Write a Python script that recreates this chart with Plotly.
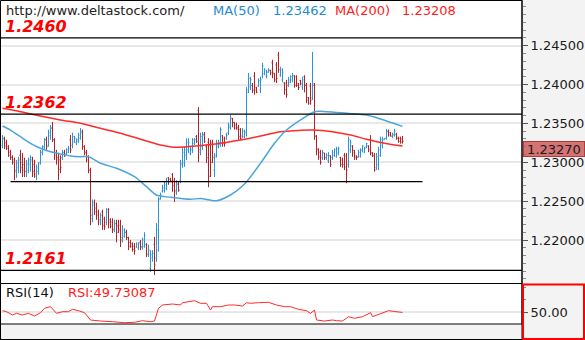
import plotly.graph_objects as go

# ---------------- data (prices in pips, 1 pip = 0.0001) ----------------
opens_pips = [
    12322,12330,12325,12320,12313,12307,12303,12288,12293,12309,12300,12297,12288,12290,12297,12303,12297,12282,12288,12300,
    12313,12320,12329,12322,12334,12344,12329,12313,12306,12303,12306,12313,12311,12313,12329,12322,12326,12325,12327,12331,
    12338,12320,12313,12307,12290,12228,12248,12241,
    12236,12223,12236,12227,12223,12239,12226,12223,12213,12221,12218,12219,12203,12205,12210,12203,12197,12195,12192,12191,
    12190,12197,12191,12192,12194,12181,12164,12177,12194,12177,12187,12253,12263,12264,12267,12280,12278,12284,12277,12262,
    12272,12277,12297,12299,12309,12316,12312,12316,12324,12333,
    12367,12313,12320,12336,12320,12326,12322,12325,12290,12309,12321,12323,12334,12330,12330,12338,12345,12356,12351,12348,
    12345,12342,12334,12333,12338,12393,12397,12399,12411,12396,12398,12393,12411,12414,12411,12416,12418,12428,12414,12425,
    12438,12412,12406,12402,12402,12399,12403,12406,12411,12410,12401,
    12405,12397,12410,12399,12383,12398,12383,12399,12334,12317,12313,12306,12312,12306,12302,12308,12306,12309,12308,12312,
    12306,12303,12309,12308,12297,12316,12321,12315,12308,12307,12308,12315,12313,12320,12321,12329,12312,12309,12293,12297,
    12309,12322,12329,12331,12340,12338,12333,12335,12336,12331,12331,12330,
]
highs_pips = [
    12335,12333,12329,12322,12316,12309,12306,12303,12307,12316,12312,12306,12303,12306,12309,12307,12303,12297,12300,12316,
    12322,12331,12333,12342,12348,12352,12331,12316,12312,12309,12316,12316,12318,12321,12335,12338,12334,12331,12338,12344,
    12342,12322,12316,12309,12293,12252,12252,12248,
    12239,12235,12239,12230,12241,12241,12228,12228,12226,12226,12226,12226,12219,12215,12213,12204,12200,12197,12196,12197,
    12197,12200,12203,12210,12196,12194,12187,12187,12204,12222,12255,12261,12271,12275,12280,12281,12280,12286,12280,12277,
    12275,12303,12320,12320,12331,12331,12320,12331,12331,12335,
    12371,12338,12339,12339,12322,12331,12329,12329,12312,12329,12329,12345,12335,12333,12338,12351,12361,12357,12352,12351,
    12348,12344,12344,12342,12397,12415,12410,12402,12416,12397,12408,12410,12428,12421,12419,12421,12419,12432,12415,12429,
    12442,12423,12421,12403,12406,12410,12412,12415,12412,12412,12402,
    12406,12410,12412,12402,12384,12402,12442,12402,12335,12318,12316,12316,12312,12312,12313,12309,12316,12318,12320,12320,
    12307,12306,12312,12312,12333,12329,12322,12316,12309,12316,12318,12322,12320,12325,12322,12335,12313,12312,12312,12320,
    12333,12333,12331,12343,12342,12339,12338,12343,12338,12333,12333,12334,
]
lows_pips = [
    12318,12317,12316,12307,12303,12297,12277,12280,12286,12286,12281,12281,12281,12286,12288,12281,12280,12277,12284,12297,
    12309,12316,12316,12320,12329,12326,12303,12297,12277,12286,12303,12307,12309,12312,12312,12318,12325,12322,12325,12329,
    12316,12309,12300,12286,12219,12223,12232,12226,
    12219,12219,12213,12213,12219,12215,12215,12209,12210,12197,12209,12191,12197,12203,12200,12187,12190,12185,12181,12190,
    12187,12187,12188,12190,12178,12178,12159,12172,12155,12172,12185,12252,12261,12261,12264,12271,12275,12262,12249,12258,
    12262,12273,12293,12294,12303,12312,12309,12312,12322,12325,
    12300,12309,12316,12325,12299,12268,12281,12299,12281,12306,12318,12320,12320,12320,12329,12335,12342,12345,12342,12342,
    12329,12329,12331,12331,12333,12389,12393,12389,12387,12389,12397,12389,12408,12412,12408,12415,12412,12408,12403,12402,
    12415,12410,12403,12387,12383,12397,12402,12403,12396,12397,12393,
    12399,12393,12390,12376,12374,12374,12380,12329,12309,12303,12297,12303,12303,12303,12299,12294,12303,12307,12306,12309,
    12294,12293,12290,12273,12293,12312,12307,12303,12303,12306,12306,12313,12312,12318,12313,12309,12307,12288,12290,12290,
    12307,12318,12329,12329,12333,12333,12331,12333,12329,12325,12324,12324,
]
closes_pips = [
    12331,12321,12318,12309,12306,12300,12290,12299,12303,12293,12290,12288,12298,12303,12306,12288,12285,12293,12298,12313,
    12320,12329,12320,12338,12344,12329,12309,12303,12291,12293,12312,12308,12316,12318,12316,12333,12331,12329,12335,12340,
    12320,12312,12303,12290,12232,12245,12236,12232,
    12226,12232,12219,12217,12236,12223,12218,12214,12221,12210,12213,12200,12213,12210,12203,12192,12192,12188,12186,12195,
    12196,12191,12200,12206,12182,12187,12181,12183,12168,12213,12252,12258,12267,12271,12276,12275,12276,12270,12264,12272,
    12264,12299,12313,12316,12326,12325,12317,12329,12329,12327,
    12316,12333,12335,12327,12306,12282,12300,12306,12307,12325,12326,12342,12325,12324,12335,12347,12357,12351,12344,12343,
    12333,12331,12340,12339,12390,12408,12406,12393,12393,12390,12405,12406,12424,12419,12416,12419,12415,12415,12406,12408,
    12419,12419,12416,12393,12387,12406,12410,12412,12399,12399,12396,
    12401,12406,12399,12380,12376,12380,12401,12333,12316,12307,12300,12312,12306,12309,12309,12297,12313,12316,12317,12318,
    12297,12297,12294,12290,12329,12325,12312,12306,12306,12313,12316,12321,12318,12324,12316,12312,12308,12290,12307,12316,
    12329,12330,12331,12339,12335,12334,12336,12340,12331,12327,12326,12327,
]

ma50_idx = [0, 4, 9, 14, 19, 24, 29, 34, 39, 43, 49, 57, 66, 72, 77, 84, 94, 99, 107, 114,
            121, 129, 136, 142, 151, 156, 162, 172, 182, 189, 200]
ma50 = [1.23467, 1.23415, 1.23329, 1.23244, 1.23180, 1.23136, 1.23107, 1.23081, 1.23072, 1.23072,
        1.22987, 1.22923, 1.22814, 1.22686, 1.22579, 1.22550, 1.22524, 1.22534, 1.22506, 1.22579,
        1.22720, 1.22987, 1.23244, 1.23415, 1.23579, 1.23651, 1.23651, 1.23630, 1.23608, 1.23557, 1.23462]

ma200_idx = [0, 9, 19, 29, 39, 49, 59, 69, 79, 86, 92, 99, 109, 119, 129, 139, 149, 155, 165, 174, 182, 191, 200]
ma200 = [1.23695, 1.23651, 1.23595, 1.23544, 1.23502, 1.23437, 1.23373, 1.23296, 1.23222, 1.23193,
         1.23200, 1.23216, 1.23244, 1.23287, 1.23338, 1.23393, 1.23411, 1.23415, 1.23393, 1.23351,
         1.23296, 1.23244, 1.23208]

rsi_idx = [0, 2, 5, 7, 10, 13, 16, 19, 21, 24, 27, 30, 33, 35, 38, 41, 44, 47, 49, 55, 61, 66, 70, 74, 76,
           78, 80, 85, 89, 90, 96, 99, 102, 104, 105, 109, 113, 116, 120, 122, 124, 128, 133, 137, 141,
           144, 148, 152, 154, 156, 157, 161, 165, 167, 170, 173, 176, 180, 184, 185, 189, 193, 197, 200]
rsi = [52.6, 51.0, 45.7, 48.4, 45.7, 48.4, 44.1, 49.4, 56.4, 59.0, 48.4, 51.0, 51.0, 54.8, 52.6, 49.4,
       37.7, 36.1, 36.1, 35.0, 33.4, 34.0, 36.6, 35.0, 36.1, 56.4, 61.7, 63.3, 61.7, 65.4, 68.6, 64.4,
       64.4, 53.7, 59.0, 59.0, 61.7, 61.7, 60.1, 65.4, 64.4, 65.4, 66.0, 61.7, 59.0, 59.0, 54.8, 52.6,
       48.4, 53.7, 37.7, 36.1, 37.7, 36.6, 36.1, 43.0, 40.4, 43.0, 49.4, 43.0, 48.4, 52.6, 51.0, 49.73087]

fib_levels = [1.2460, 1.2362, 1.2161]
mid_level = 1.2275
mid_level_span = [4, 210]          # bar indices covered by the 1.2275 line
price_ticks = [1.220, 1.225, 1.230, 1.235, 1.240, 1.245]
site_text = "http://www.deltastock.com/"

PIP = 1e-4
opens = [v * PIP for v in opens_pips]
highs = [v * PIP for v in highs_pips]
lows = [v * PIP for v in lows_pips]
closes = [v * PIP for v in closes_pips]
bar_idx = list(range(len(closes)))

# ---------------- styling ----------------
W, H = 585, 340
PLOT_R = 522.0
PRICE_BOT = 283.5
RSI_BOT = 324.0
def fx(px): return px / W
def fy(py): return 1 - py / H

BLUE_BAR = "#2f93d1"
RED_BAR = "#ad2428"
BLUE_LINE = "#4aa5dc"
RED_LINE = "#ff2a2a"
BLUE_TXT = "#1f8ad2"
RED_TXT = "#ff1c1c"
FONT = "DejaVu Sans"
X_RANGE = [-1.25, 259.75]   # puts each bar on a pixel centre

fig = go.Figure()
fig.add_trace(go.Ohlc(
    x=bar_idx, open=opens, high=highs, low=lows, close=closes,
    increasing=dict(line=dict(color=BLUE_BAR, width=1)),
    decreasing=dict(line=dict(color=RED_BAR, width=1)),
    tickwidth=0.5, hoverinfo="skip", showlegend=False, xaxis="x", yaxis="y"))
fig.add_trace(go.Scatter(x=ma200_idx, y=ma200, mode="lines",
                         line=dict(color=RED_LINE, width=1.5, shape="spline", smoothing=0.8),
                         hoverinfo="skip", showlegend=False, xaxis="x", yaxis="y"))
fig.add_trace(go.Scatter(x=ma50_idx, y=ma50, mode="lines",
                         line=dict(color=BLUE_LINE, width=1.5, shape="spline", smoothing=0.8),
                         hoverinfo="skip", showlegend=False, xaxis="x", yaxis="y"))
fig.add_trace(go.Scatter(x=rsi_idx, y=rsi, mode="lines",
                         line=dict(color="#ff2a2a", width=1),
                         hoverinfo="skip", showlegend=False, xaxis="x2", yaxis="y2"))

# price scale: 1.245 at y=45.7px, 7.772 px per 0.001
px_per_unit = 7772.0
p_top = 1.245 + 45.7 / px_per_unit
p_bot = 1.245 - (PRICE_BOT - 45.7) / px_per_unit

shapes = []
for v in fib_levels:
    shapes.append(dict(type="line", xref="x domain", yref="y", x0=0, x1=1, y0=v, y1=v,
                       line=dict(color="#000000", width=1.3), layer="above"))
shapes.append(dict(type="line", xref="x", yref="y", x0=mid_level_span[0], x1=mid_level_span[1],
                   y0=mid_level, y1=mid_level, line=dict(color="#000000", width=1.3), layer="above"))
# panel borders
border = dict(color="#000000", width=1)
shapes += [
    dict(type="rect", xref="paper", yref="paper", x0=fx(0.5), x1=fx(PLOT_R), y0=fy(PRICE_BOT), y1=fy(0.5),
         line=border, layer="above"),
    dict(type="rect", xref="paper", yref="paper", x0=fx(0.5), x1=fx(PLOT_R), y0=fy(RSI_BOT), y1=fy(PRICE_BOT),
         line=border, layer="above"),
    dict(type="line", xref="paper", yref="paper", x0=fx(0.5), x1=fx(0.5), y0=fy(339.5), y1=fy(RSI_BOT),
         line=border),
    dict(type="line", xref="paper", yref="paper", x0=fx(0), x1=fx(PLOT_R), y0=fy(339.5), y1=fy(339.5),
         line=border),
    dict(type="line", xref="paper", yref="paper", x0=fx(PLOT_R), x1=fx(PLOT_R), y0=0, y1=1,
         line=border, layer="above"),
    dict(type="rect", xref="paper", yref="paper", x0=fx(523), x1=fx(584), y0=fy(339), y1=fy(284.5),
         line=dict(color="#ff0000", width=2), layer="above"),
]

ann = []
def txt(x, y, s, color, size=13, bold=False, italic=False, xanchor="left"):
    t = f"<b>{s}</b>" if bold else s
    t = f"<i>{t}</i>" if italic else t
    ann.append(dict(xref="paper", yref="paper", x=fx(x), y=fy(y), text=t, showarrow=False,
                    xanchor=xanchor, yanchor="middle",
                    font=dict(family=FONT, size=size, color=color)))

txt(4, 11, site_text, "#222222")
txt(211, 11, "MA(50)", BLUE_TXT)
txt(271, 11, f"{ma50[-1]:.5f}", BLUE_TXT)
txt(333, 11, "MA(200)", RED_TXT)
txt(400, 11, f"{ma200[-1]:.5f}", RED_TXT)
txt(4, 292.5, "RSI(14)", "#111111")
txt(66, 292.5, f"RSI:{rsi[-1]:.5f}", RED_TXT)

for v in fib_levels:
    ann.append(dict(xref="paper", yref="y", x=fx(3), y=v, yshift=11.5, text=f"<b><i>{v:.4f}</i></b>",
                    showarrow=False, xanchor="left", yanchor="middle",
                    font=dict(family=FONT, size=16, color="#ff0000")))

ann.append(dict(xref="paper", yref="y", x=fx(522.5), y=closes[-1], text=f"{closes[-1]:.5f}",
                showarrow=False, xanchor="left", yanchor="top", align="center",
                bgcolor="rgba(204,82,82,0.8)", bordercolor="#b23a3a", borderwidth=1, borderpad=1,
                width=58, height=12, font=dict(family=FONT, size=13, color="#1a1a1a")))

fig.update_layout(
    width=W, height=H, margin=dict(l=0, r=0, t=0, b=0),
    paper_bgcolor="#f3f3f3", plot_bgcolor="#ffffff",
    showlegend=False, shapes=shapes, annotations=ann,
    font=dict(family=FONT, size=13, color="#1a1a1a"),
    xaxis=dict(domain=[0, fx(PLOT_R)], range=X_RANGE, showticklabels=False, showgrid=False,
               zeroline=False, ticks="", rangeslider=dict(visible=False), fixedrange=True),
    xaxis2=dict(domain=[0, fx(PLOT_R)], range=X_RANGE, anchor="y2", showticklabels=False,
                showgrid=False, zeroline=False, ticks="", matches="x"),
    yaxis=dict(domain=[fy(PRICE_BOT), 1], range=[p_bot, p_top], side="right", anchor="x",
               tickvals=price_ticks, ticktext=[f"{v:.5f}" for v in price_ticks],
               ticks="outside", ticklen=5, tickcolor="#555555", showgrid=True, gridcolor="#e8e8e8",
               gridwidth=1.5, zeroline=False, showline=False,
               tickfont=dict(family=FONT, size=13, color="#1a1a1a"),
               minor=dict(dtick=0.001, tick0=1.22, ticks="outside", ticklen=3, tickcolor="#8a8a8a",
                          showgrid=False)),
    yaxis2=dict(domain=[fy(RSI_BOT), fy(PRICE_BOT)], range=[31.3, 96.1], side="right", anchor="x2",
                tickvals=[50], ticktext=["50.00"], ticks="outside", ticklen=5, tickcolor="#555555",
                showgrid=True, gridcolor="#e8e8e8", gridwidth=1.5, zeroline=False,
                tickfont=dict(family=FONT, size=13, color="#1a1a1a"),
                minor=dict(tickvals=[30, 70, 90], ticks="outside", ticklen=3, tickcolor="#8a8a8a",
                           showgrid=False)),
)

fig.write_html("out.html")
